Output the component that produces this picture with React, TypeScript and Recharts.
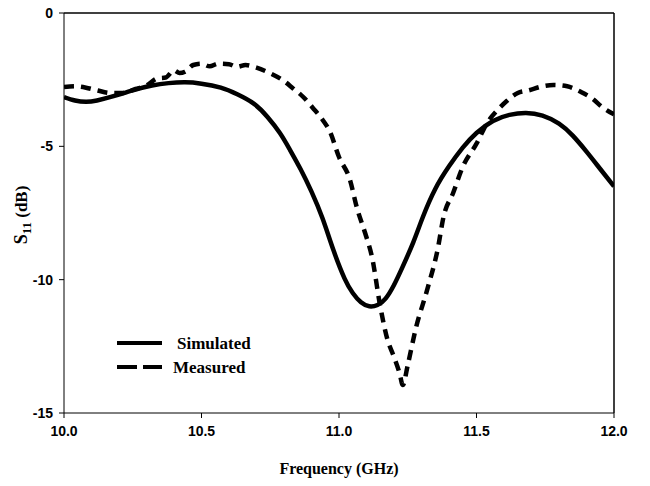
import React from 'react';
import { LineChart, Line, XAxis, YAxis, ReferenceLine } from 'recharts';

const simFreq = [10.0, 10.04, 10.08, 10.12, 10.18, 10.25, 10.32, 10.38, 10.44, 10.5, 10.57, 10.63, 10.69, 10.74, 10.785, 10.82, 10.86, 10.9, 10.94, 10.98, 11.02, 11.05, 11.08, 11.11, 11.14, 11.17, 11.2, 11.23, 11.27, 11.305, 11.35, 11.4, 11.45, 11.5, 11.56, 11.62, 11.68, 11.74, 11.8, 11.85, 11.9, 11.95, 12.0];
const simS11 = [-3.15, -3.28, -3.33, -3.28, -3.12, -2.9, -2.72, -2.63, -2.6, -2.65, -2.8, -3.05, -3.4, -3.9, -4.5, -5.1, -5.85, -6.7, -7.7, -8.9, -9.95, -10.5, -10.85, -11.0, -10.95, -10.7, -10.2, -9.55, -8.6, -7.65, -6.6, -5.75, -5.05, -4.5, -4.05, -3.82, -3.75, -3.85, -4.15, -4.6, -5.2, -5.85, -6.5];

const measFreq = [10.0, 10.04, 10.08, 10.12, 10.17, 10.21, 10.26, 10.3, 10.34, 10.37, 10.4, 10.42, 10.44, 10.47, 10.5, 10.53, 10.56, 10.6, 10.63, 10.66, 10.7, 10.75, 10.8, 10.83, 10.87, 10.905, 10.94, 10.967, 11.0, 11.04, 11.065, 11.095, 11.12, 11.15, 11.175, 11.2, 11.22, 11.232, 11.25, 11.28, 11.32, 11.36, 11.38, 11.415, 11.45, 11.5, 11.54, 11.58, 11.61, 11.65, 11.69, 11.74, 11.78, 11.83, 11.88, 11.92, 11.96, 12.0];
const measS11 = [-2.78, -2.75, -2.8, -2.9, -3.0, -3.0, -2.85, -2.72, -2.45, -2.42, -2.15, -2.25, -2.2, -1.95, -1.9, -2.0, -1.9, -1.92, -2.02, -1.95, -2.05, -2.26, -2.55, -2.8, -3.15, -3.56, -4.0, -4.45, -5.4, -6.26, -7.3, -8.25, -9.15, -11.0, -12.2, -12.9, -13.5, -13.95, -13.2, -11.8, -10.4, -8.8, -7.65, -6.75, -5.77, -4.9, -4.1, -3.6, -3.3, -3.0, -2.9, -2.75, -2.7, -2.75, -2.96, -3.2, -3.55, -3.8];

const xTicks = [10.0, 10.5, 11.0, 11.5, 12.0];
const yTicks = [0, -5, -10, -15];
const seriesNames = ['Simulated', 'Measured'];

const simData = simFreq.map((f, i) => ({ f, v: simS11[i] }));
const measData = measFreq.map((f, i) => ({ f, v: measS11[i] }));

const tickFont = { fontFamily: 'Liberation Sans, Arial, sans-serif', fontWeight: 'bold', fontSize: 14, fill: '#000' };
const serif = 'Liberation Serif, Times New Roman, serif';

const YTitle = () => (
  <text
    transform="translate(27, 215) rotate(-90)"
    textAnchor="middle"
    fontFamily={serif}
    fontWeight="bold"
    fontSize={17}
    fill="#000"
  >
    <tspan fontSize={18}>S</tspan>
    <tspan fontSize={13} dy={4}>11</tspan>
    <tspan dy={-4}> (dB)</tspan>
  </text>
);

export default function App() {
  return (
    <div style={{ position: 'absolute', left: 0, top: 0, width: 650, height: 486, background: '#fff' }}>
      <LineChart width={650} height={486} margin={{ top: 13, right: 36, bottom: 0, left: 0 }}>
        <XAxis
          dataKey="f"
          type="number"
          domain={[10, 12]}
          ticks={xTicks}
          tickFormatter={(v: number) => v.toFixed(1)}
          height={73}
          tick={tickFont}
          tickSize={5}
          tickMargin={8}
          stroke="#000"
          allowDataOverflow
          label={{ value: 'Frequency  (GHz)', position: 'insideBottom', offset: 12, style: { fontFamily: serif, fontWeight: 'bold', fontSize: 16, fill: '#000' } }}
        />
        <YAxis
          type="number"
          domain={[-15, 0]}
          ticks={yTicks}
          width={64}
          tick={tickFont}
          tickSize={5}
          tickMargin={6}
          stroke="#000"
          label={<YTitle />}
        />
        <ReferenceLine y={0} stroke="#000" strokeWidth={1.5} ifOverflow="visible" />
        <ReferenceLine x={12} stroke="#000" strokeWidth={1.5} ifOverflow="visible" />
        <Line data={simData} dataKey="v" name={seriesNames[0]} type="natural" stroke="#000" strokeWidth={4.5} dot={false} isAnimationActive={false} />
        <Line data={measData} dataKey="v" name={seriesNames[1]} type="monotone" stroke="#000" strokeWidth={4.5} strokeDasharray="10 7" dot={false} isAnimationActive={false} />
      </LineChart>
      <svg width={650} height={486} style={{ position: 'absolute', left: 0, top: 0, pointerEvents: 'none' }}>
        <line x1={117} y1={343} x2={162} y2={343} stroke="#000" strokeWidth={4} />
        <line x1={117} y1={367} x2={162} y2={367} stroke="#000" strokeWidth={4} strokeDasharray="20 6" />
        <text x={177} y={349} fontFamily={serif} fontWeight="bold" fontSize={17} fill="#000">{seriesNames[0]}</text>
        <text x={173} y={373} fontFamily={serif} fontWeight="bold" fontSize={17} fill="#000">{seriesNames[1]}</text>
      </svg>
    </div>
  );
}
